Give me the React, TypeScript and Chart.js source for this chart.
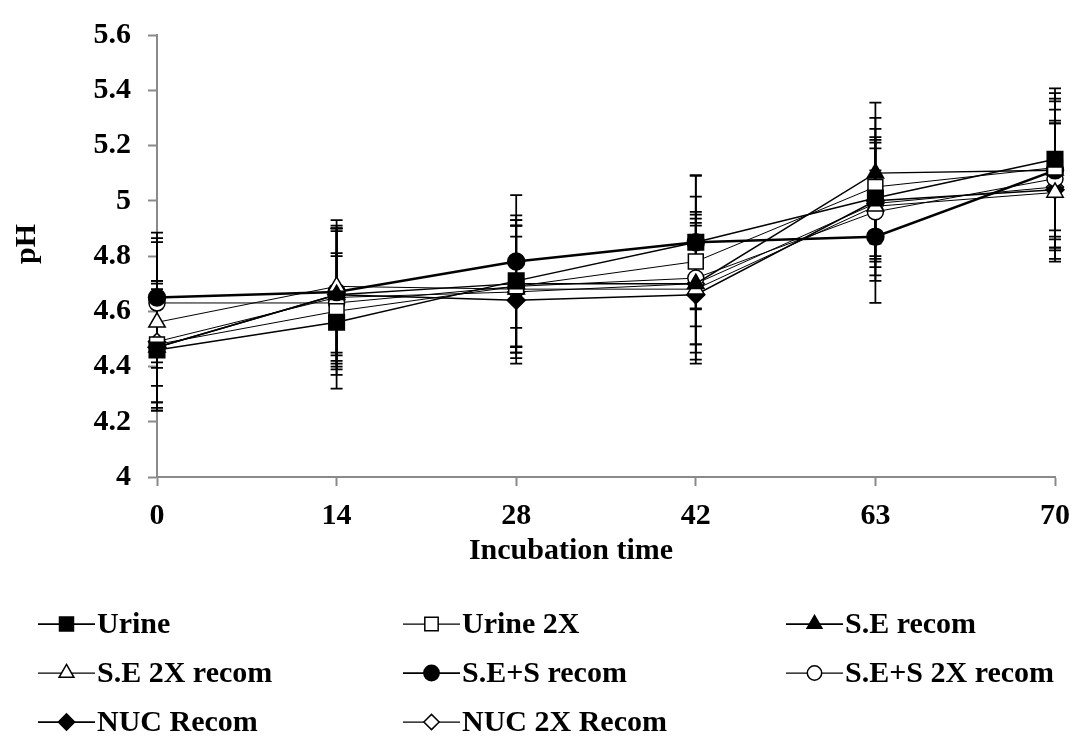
import React, { useEffect, useRef } from 'react';
import { Chart, registerables } from 'chart.js';

Chart.register(...registerables);

// Incubation days (category axis)
const days = ['0', '14', '28', '42', '63', '70'];

// Series names
const seriesNames = [
  'Urine',
  'Urine 2X',
  'S.E recom',
  'S.E 2X recom',
  'S.E+S recom',
  'S.E+S 2X recom',
  'NUC Recom',
  'NUC 2X Recom',
];

// Mean pH per series
const urine = [4.46, 4.56, 4.71, 4.85, 5.01, 5.15];
const urine2x = [4.48, 4.6, 4.69, 4.78, 5.05, 5.12];
const seRecom = [4.47, 4.66, 4.7, 4.7, 5.1, 5.11];
const se2xRecom = [4.56, 4.69, 4.68, 4.68, 4.98, 5.03];
const sesRecom = [4.65, 4.67, 4.78, 4.85, 4.87, 5.11];
const ses2xRecom = [4.63, 4.63, 4.69, 4.72, 4.96, 5.08];
const nucRecom = [4.47, 4.66, 4.64, 4.66, 5.0, 5.04];
const nuc2xRecom = [4.49, 4.65, 4.67, 4.7, 4.99, 5.05];

// Standard deviations (symmetric error bars)
const urineErr = [0.22, 0.24, 0.237, 0.243, 0.25, 0.257];
const urine2xErr = [0.23, 0.21, 0.24, 0.235, 0.25, 0.25];
const seRecomErr = [0.23, 0.25, 0.23, 0.25, 0.255, 0.25];
const se2xRecomErr = [0.29, 0.24, 0.23, 0.255, 0.25, 0.25];
const sesRecomErr = [0.235, 0.23, 0.24, 0.24, 0.24, 0.28];
const ses2xRecomErr = [0.235, 0.26, 0.22, 0.24, 0.25, 0.25];
const nucRecomErr = [0.14, 0.24, 0.23, 0.25, 0.22, 0.25];
const nuc2xRecomErr = [0.22, 0.25, 0.24, 0.22, 0.2, 0.23];

// Y axis range
const yMin = 4;
const yMax = 5.6;
const yStep = 0.2;

const axisTitleX = 'Incubation time';
const axisTitleY = 'pH';

const FONT = '"Liberation Serif", "Times New Roman", serif';
const AXIS_GRAY = '#8a8a8a';

type Marker = { style: string; radius: number; filled: boolean; width: number };

const markers: Marker[] = [
  { style: 'rect', radius: 11, filled: true, width: 1.5 },
  { style: 'rect', radius: 10.5, filled: false, width: 1 },
  { style: 'triangle', radius: 9.5, filled: true, width: 1.5 },
  { style: 'triangle', radius: 9.5, filled: false, width: 1 },
  { style: 'circle', radius: 8.5, filled: true, width: 2.5 },
  { style: 'circle', radius: 8, filled: false, width: 1 },
  { style: 'rectRot', radius: 9, filled: true, width: 1.5 },
  { style: 'rectRot', radius: 8.5, filled: false, width: 1 },
];

const values = [urine, urine2x, seRecom, se2xRecom, sesRecom, ses2xRecom, nucRecom, nuc2xRecom];
const errors = [urineErr, urine2xErr, seRecomErr, se2xRecomErr, sesRecomErr, ses2xRecomErr, nucRecomErr, nuc2xRecomErr];

// Draws a legend symbol shape
function drawShape(ctx: CanvasRenderingContext2D, m: Marker, x: number, y: number, r: number) {
  ctx.beginPath();
  if (m.style === 'rect') {
    const s = r * Math.SQRT1_2;
    ctx.rect(x - s, y - s, 2 * s, 2 * s);
  } else if (m.style === 'triangle') {
    const a = (2 * Math.PI) / 3;
    ctx.moveTo(x, y - r);
    ctx.lineTo(x + Math.sin(a) * r, y - Math.cos(a) * r);
    ctx.lineTo(x + Math.sin(2 * a) * r, y - Math.cos(2 * a) * r);
    ctx.closePath();
  } else if (m.style === 'circle') {
    ctx.arc(x, y, r, 0, Math.PI * 2);
  } else {
    ctx.moveTo(x - r, y);
    ctx.lineTo(x, y - r);
    ctx.lineTo(x + r, y);
    ctx.lineTo(x, y + r);
    ctx.closePath();
  }
  ctx.fillStyle = m.filled ? '#000' : '#fff';
  ctx.fill();
  ctx.lineWidth = 1.5;
  ctx.strokeStyle = '#000';
  ctx.stroke();
}

// Vertical error bars with caps, drawn under the lines and markers
const errorBarPlugin = {
  id: 'errorBars',
  beforeDatasetsDraw(chart: any) {
    const { ctx } = chart;
    const xs = chart.scales.x;
    const ys = chart.scales.y;
    ctx.save();
    ctx.strokeStyle = '#000';
    ctx.lineWidth = 1.75;
    for (let i = values.length - 1; i >= 0; i--) {
      values[i].forEach((v, j) => {
        const e = errors[i][j];
        const x = xs.getPixelForValue(j);
        const top = ys.getPixelForValue(v + e);
        const bot = ys.getPixelForValue(v - e);
        ctx.beginPath();
        ctx.moveTo(x, top);
        ctx.lineTo(x, bot);
        ctx.moveTo(x - 6, top);
        ctx.lineTo(x + 6, top);
        ctx.moveTo(x - 6, bot);
        ctx.lineTo(x + 6, bot);
        ctx.stroke();
      });
    }
    ctx.restore();
  },
};

// Legend grid (text start x per column, row centres) and axis title anchors
const legendTextX = [97, 462, 845];
const legendRows = [624, 673, 722];
const xTitlePos = { x: 571, y: 551 };
const yTitlePos = { x: 27, y: 244 };

const legendPlugin = {
  id: 'gridLegend',
  afterDraw(chart: any) {
    const { ctx } = chart;
    ctx.save();
    ctx.font = `bold 30px ${FONT}`;
    ctx.fillStyle = '#000';
    ctx.textBaseline = 'middle';
    ctx.textAlign = 'center';
    ctx.fillText(axisTitleX, xTitlePos.x, xTitlePos.y);
    ctx.save();
    ctx.translate(yTitlePos.x, yTitlePos.y);
    ctx.rotate(-Math.PI / 2);
    ctx.fillText(axisTitleY, 0, 0);
    ctx.restore();

    ctx.textAlign = 'left';
    seriesNames.forEach((name, i) => {
      const tx = legendTextX[i % 3];
      const x0 = tx - 59;
      const y = legendRows[Math.floor(i / 3)];
      const m = markers[i];
      ctx.beginPath();
      ctx.moveTo(x0, y);
      ctx.lineTo(x0 + 57, y);
      ctx.lineWidth = m.width > 1 ? 1.75 : 1.25;
      ctx.strokeStyle = '#000';
      ctx.stroke();
      drawShape(ctx, m, x0 + 28.5, y, m.radius * 0.9);
      ctx.fillStyle = '#000';
      ctx.fillText(name, tx, y + 1);
    });
    ctx.restore();
  },
};

export default function App() {
  const canvasRef = useRef<HTMLCanvasElement | null>(null);

  useEffect(() => {
    if (!canvasRef.current) return;
    const datasets = seriesNames.map((name, i) => ({
      label: name,
      data: values[i],
      borderColor: '#000',
      borderWidth: markers[i].width,
      pointStyle: markers[i].style,
      pointRadius: markers[i].radius,
      pointHoverRadius: markers[i].radius,
      pointBackgroundColor: markers[i].filled ? '#000' : '#fff',
      pointBorderColor: '#000',
      pointBorderWidth: 1.5,
      tension: 0,
      fill: false,
    }));

    const chart = new Chart(canvasRef.current, {
      type: 'line',
      data: { labels: days, datasets },
      options: {
        responsive: false,
        animation: false,
        devicePixelRatio: 1,
        layout: { padding: { top: 26, right: 20, left: 0, bottom: 165 } },
        plugins: {
          legend: { display: false },
          tooltip: { enabled: false },
        },
        scales: {
          x: {
            type: 'category',
            offset: false,
            grid: { drawOnChartArea: false, drawTicks: true, tickLength: 9, tickColor: AXIS_GRAY, tickWidth: 2 },
            border: { color: AXIS_GRAY, width: 2 },
            ticks: { color: '#000', font: { family: FONT, size: 30, weight: 'bold' }, padding: 12, maxRotation: 0 },
            afterFit(scale: any) {
              scale.height = 100;
              scale.paddingLeft = 0;
              scale.paddingRight = 0;
            },
          },
          y: {
            min: yMin,
            max: yMax,
            grid: { drawOnChartArea: false, drawTicks: true, tickLength: 9, tickColor: AXIS_GRAY, tickWidth: 2 },
            border: { color: AXIS_GRAY, width: 2 },
            ticks: {
              stepSize: yStep,
              color: '#000',
              font: { family: FONT, size: 30, weight: 'bold' },
              padding: 17,
              callback: (v: any) => String(Math.round(Number(v) * 10) / 10),
            },
            afterFit(scale: any) {
              scale.width = 157;
            },
          },
        },
      },
      plugins: [errorBarPlugin, legendPlugin],
    });
    return () => chart.destroy();
  }, []);

  return (
    <div style={{ position: 'absolute', left: 0, top: 0, width: 1075, height: 742, background: '#fff' }}>
      <canvas ref={canvasRef} width={1075} height={742} />
    </div>
  );
}
